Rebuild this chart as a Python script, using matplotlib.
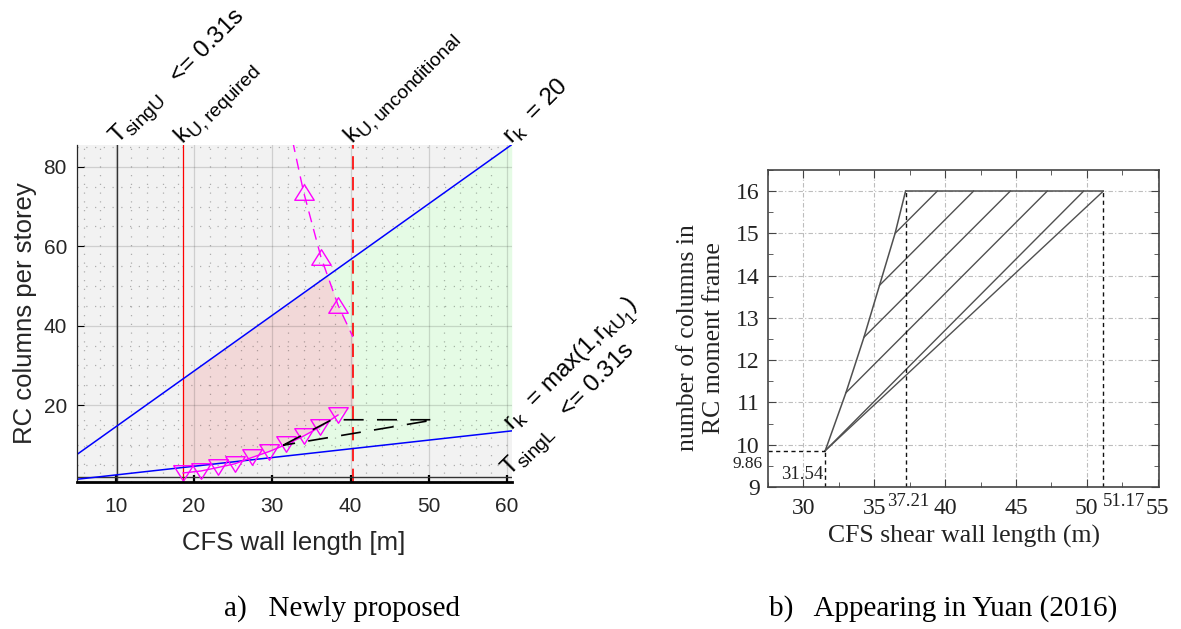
import numpy as np
import matplotlib
import matplotlib.pyplot as plt
from matplotlib.path import Path
from matplotlib.ticker import MultipleLocator
from matplotlib.transforms import blended_transform_factory

plt.rcParams['font.family'] = 'Liberation Sans'
plt.rcParams['mathtext.fontset'] = 'custom'
plt.rcParams['mathtext.rm'] = 'Liberation Sans'
plt.rcParams['mathtext.it'] = 'Liberation Sans:italic'
# bigger, lower subscripts (closer to the MATLAB TeX look)
try:
    matplotlib._mathtext.SHRINK_FACTOR = 0.8
    matplotlib._mathtext.FontConstantsBase.sub1 = 0.45
    matplotlib._mathtext.FontConstantsBase.sub2 = 0.55
except AttributeError:
    pass

# ================= data, panel a) =================
x_lim = (5, 60.6)
y_lim = (0.7, 85.6)

t_singU = 10.2      # vertical line T_singU
k_req = 18.6        # k_U,required
k_uncond = 40.3     # k_U,unconditional
t_singL = 2.0       # horizontal line T_singL

rk20_x = [5, 60.6]
rk20_y = [7.5, 85.6]
rkmax_x = [5, 60.6]
rkmax_y = [1.3, 13.5]

# magenta dashed curve with up triangles
up_x = [32.6, 34.0, 36.2, 38.4, 40.3]
up_y = [86.5, 73.7, 57.4, 45.2, 37.2]

# magenta solid curve with down triangles
dn_x = [18.6, 20.9, 23.1, 25.2, 27.4, 29.6, 31.8, 34.0, 36.1, 38.4]
dn_y = [2.9, 3.4, 4.3, 5.2, 6.8, 8.3, 10.1, 12.2, 14.5, 17.5]
pink_corner_y = 19.6

# black dashed triangle
blk_x = [31.4, 37.6, 50.8, 31.4]
blk_y = [9.9, 16.3, 16.3, 9.9]

# ================= data, panel b) =================
b_xlim = (27.5, 55.1)
b_ylim = (9, 16.5)
edge_x = [31.54, 33.0, 34.27, 35.37, 36.47, 37.21]
edge_y = [9.86, 11.23, 12.54, 13.77, 15.0, 16.0]
top_x = [37.21, 51.17]
top_y = 16.0
hatch_x0 = [36.47, 35.37, 34.27, 33.0, 31.54, 31.54]
hatch_y0 = [15.0, 13.77, 12.54, 11.23, 9.86, 9.86]
hatch_x1 = [39.45, 42.01, 44.6, 47.21, 49.78, 51.17]
corner_x, corner_y = 31.54, 9.86

fig = plt.figure(figsize=(11.81, 6.29), dpi=100)

# ================= Plot a) =================
ax = fig.add_axes([0.0649, 0.2342, 0.3684, 0.5358])
ax.set_facecolor('#f2f2f2')
ax.set_xlim(*x_lim)
ax.set_ylim(*y_lim)

# shaded regions
xs = np.linspace(k_req, x_lim[1], 600)
ax.fill_between(xs, np.interp(xs, rkmax_x, rkmax_y), np.interp(xs, rk20_x, rk20_y),
                color='#e5fbe5', lw=0, zorder=0.3)
xp = np.linspace(k_req, k_uncond, 400)
p_top = np.minimum(np.interp(xp, rk20_x, rk20_y), np.interp(xp, up_x, up_y))
p_bot = np.maximum(np.interp(xp, dn_x + [k_uncond], dn_y + [pink_corner_y]),
                   np.interp(xp, rkmax_x, rkmax_y))
ax.fill_between(xp, p_bot, p_top, color='#f2d8d8', lw=0, zorder=0.35)

# grid
ax.set_axisbelow(True)
ax.xaxis.set_major_locator(MultipleLocator(10))
ax.xaxis.set_minor_locator(MultipleLocator(2))
ax.yaxis.set_major_locator(MultipleLocator(20))
ax.yaxis.set_minor_locator(MultipleLocator(5))
ax.grid(which='major', color='black', alpha=0.14, lw=0.9)
ax.grid(which='minor', color='black', alpha=0.28, lw=0.9, linestyle=(0, (1, 6)))

# lines
ax.axvline(t_singU, color='#333333', lw=1)
ax.axvline(k_req, color='red', lw=0.9)
ax.axvline(k_uncond, color='red', lw=1.2, dashes=(8, 4.5))
ax.axhline(t_singL, color='#333333', lw=1)
ax.plot(rk20_x, rk20_y, color='blue', lw=1.1)
ax.plot(rkmax_x, rkmax_y, color='blue', lw=1.1)

tri_up = Path([(-1, -0.8), (1, -0.8), (0, 0.8), (-1, -0.8)], closed=True)
tri_dn = Path([(-1, 0.8), (1, 0.8), (0, -0.8), (-1, 0.8)], closed=True)
ax.plot(up_x, up_y, color='magenta', lw=1, dashes=(8, 5))
ax.plot(up_x[1:4], up_y[1:4], ls='none', marker=tri_up, ms=14,
        mfc='none', mec='magenta', mew=1)
ax.plot(dn_x, dn_y, color='magenta', lw=1, marker=tri_dn, ms=14,
        mfc='none', mec='magenta', mew=1)
ax.plot(blk_x, blk_y, color='black', lw=1.2, dashes=(12, 8))

# annotations
def note(x, y, s):
    ax.text(x, y, s, rotation=45, rotation_mode='anchor', ha='left', va='baseline',
            fontsize=17.5, clip_on=False)

note(t_singU, y_lim[1], r'T$_{\rm singU}$   <= 0.31s')
note(k_req, y_lim[1], r'k$_{\rm U,required}$')
note(k_uncond, y_lim[1], r'k$_{\rm U,unconditional}$')
note(rk20_x[-1], rk20_y[-1], r'r$_{\rm k}$  = 20')
note(rkmax_x[-1], rkmax_y[-1], r'r$_{\rm k}$  = max(1,r$_{\mathrm{kU}_1}$)')
note(x_lim[1] - 0.3, t_singL, r'T$_{\rm singL}$   <= 0.31s')

for s in ['top', 'right']:
    ax.spines[s].set_visible(False)
ax.spines['left'].set_color('#262626')
ax.spines['left'].set_linewidth(0.9)
ax.spines['bottom'].set_color('black')
ax.spines['bottom'].set_linewidth(2)
ax.tick_params(which='major', direction='in', length=5, labelsize=15, labelcolor='#262626')
ax.tick_params(axis='x', which='major', width=1.6, pad=11)
ax.tick_params(axis='y', which='major', pad=7)
ax.tick_params(which='minor', length=0)
ax.set_xlabel('CFS wall length [m]', fontsize=18.5, color='#262626', labelpad=11)
ax.set_ylabel('RC columns per storey', fontsize=18.5, color='#262626', labelpad=5)

# ================= Plot b) =================
serif = 'Liberation Serif'
ax2 = fig.add_axes([0.6503, 0.2258, 0.3311, 0.504])
ax2.set_xlim(*b_xlim)
ax2.set_ylim(*b_ylim)
ax2.xaxis.set_major_locator(MultipleLocator(5))
ax2.xaxis.set_minor_locator(MultipleLocator(2.5))
ax2.yaxis.set_major_locator(MultipleLocator(1))
ax2.yaxis.set_minor_locator(MultipleLocator(0.5))
ax2.set_axisbelow(True)
ax2.grid(which='major', color='#bdbdbd', lw=0.8, linestyle=(0, (4, 2, 1, 2)))

gray = '#505050'
ax2.plot(edge_x, edge_y, color=gray, lw=1.1)
ax2.plot(top_x, [top_y, top_y], color=gray, lw=1.1)
for x0, y0, x1 in zip(hatch_x0, hatch_y0, hatch_x1):
    ax2.plot([x0, x1], [y0, top_y], color=gray, lw=1.0)

dash = dict(color='#111111', lw=1.0, dashes=(3, 2.5))
ax2.plot([b_xlim[0], corner_x], [corner_y, corner_y], **dash)
ax2.plot([corner_x, corner_x], [b_ylim[0], corner_y], **dash)
ax2.plot([top_x[0], top_x[0]], [b_ylim[0], top_y], **dash)
ax2.plot([top_x[1], top_x[1]], [b_ylim[0], top_y], **dash)

for s in ax2.spines.values():
    s.set_color('#444444')
    s.set_linewidth(1.2)
ax2.tick_params(which='both', direction='in', top=True, right=True, color='#444444')
ax2.tick_params(which='major', length=6, labelsize=17, labelcolor='#222222')
ax2.tick_params(which='minor', length=3.5)
ax2.tick_params(axis='x', pad=8)
ax2.tick_params(axis='y', pad=6)
for lab in ax2.get_xticklabels() + ax2.get_yticklabels():
    lab.set_family(serif)

tx = blended_transform_factory(ax2.transData, ax2.transAxes)
ty = blended_transform_factory(ax2.transAxes, ax2.transData)
ax2.text(37.4, -0.045, f'{top_x[0]:.2f}', transform=tx, ha='center', va='center',
         family=serif, fontsize=13.5, color='#222222')
ax2.text(52.6, -0.045, f'{top_x[1]:.2f}', transform=tx, ha='center', va='center',
         family=serif, fontsize=13.5, color='#222222')
ax2.text(-0.015, corner_y - 0.12, f'{corner_y:.2f}', transform=ty, ha='right', va='top',
         family=serif, fontsize=12.5, color='#222222')
ax2.text(corner_x - 0.15, 9.3, f'{corner_x:.2f}', ha='right', va='center',
         family=serif, fontsize=13.5, color='#222222')

ax2.set_xlabel('CFS shear wall length (m)', family=serif, fontsize=18.5,
               color='#222222', labelpad=4)
fig.text(701 / 1181, 1 - 338 / 629, 'number of columns in\nRC moment frame',
         rotation=90, ha='center', va='center', multialignment='center',
         family=serif, fontsize=18.5, color='#222222', linespacing=1.2)

# captions
fig.text(0.290, 0.033, 'a)   Newly proposed', ha='center', va='center',
         family=serif, fontsize=21)
fig.text(0.7985, 0.033, 'b)   Appearing in Yuan (2016)', ha='center', va='center',
         family=serif, fontsize=21)

fig.savefig('out.png', dpi=100)
